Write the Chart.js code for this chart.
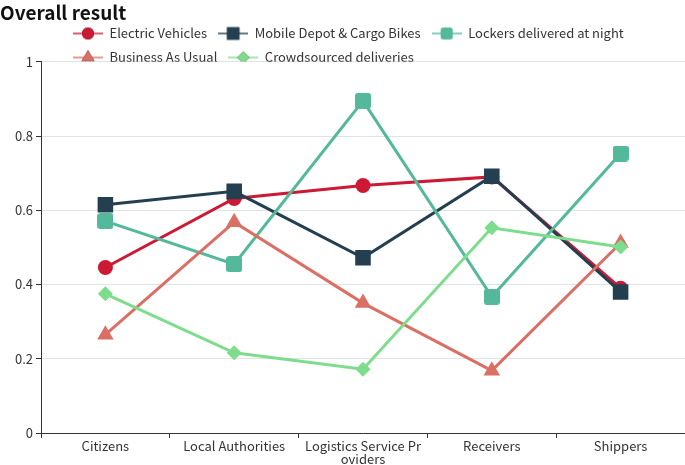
<!DOCTYPE html>
<html>
<head>
<meta charset="utf-8">
<script src="https://cdn.jsdelivr.net/npm/chart.js@4.4.1/dist/chart.umd.min.js"></script>
<style>
  body { margin: 0; background: #fff; }
  canvas { display: block; }
</style>
</head>
<body>
<canvas id="chart" width="685" height="465"></canvas>
<script>
// values
const categories = ['Citizens', 'Local Authorities', ['Logistics Service Pr', 'oviders'], 'Receivers', 'Shippers'];
const electricVehicles = [0.446, 0.632, 0.667, 0.690, 0.390];
const mobileDepot = [0.615, 0.651, 0.472, 0.692, 0.380];
const lockersNight = [0.571, 0.455, 0.895, 0.367, 0.753];
const businessAsUsual = [0.265, 0.568, 0.350, 0.168, 0.512];
const crowdsourced = [0.375, 0.216, 0.172, 0.553, 0.501];
const yTicks = [0, 0.2, 0.4, 0.6, 0.8, 1];

const FONT = "'Noto Sans CJK SC', 'Noto Sans', sans-serif";

// rounded square marker for the lockers series
function roundSquare(color, side, r) {
    const c = document.createElement('canvas');
    c.width = side;
    c.height = side;
    const g = c.getContext('2d');
    g.fillStyle = color;
    g.beginPath();
    g.roundRect(0, 0, side, side, r);
    g.fill();
    return c;
}

const series = [
    { label: 'Electric Vehicles', data: electricVehicles, color: '#cc1a35', style: 'circle', radius: 7.5 },
    { label: 'Mobile Depot & Cargo Bikes', data: mobileDepot, color: '#243f50', style: 'rect', radius: 11 },
    { label: 'Lockers delivered at night', data: lockersNight, color: '#54b89b', style: 'rounded', radius: 8 },
    { label: 'Business As Usual', data: businessAsUsual, color: '#dc6f63', style: 'triangle', radius: 9.5 },
    { label: 'Crowdsourced deliveries', data: crowdsourced, color: '#7ddd8c', style: 'rectRot', radius: 7.5 }
];

function markerStyle(s, scale) {
    if (s.style === 'rounded') {
        const side = Math.round(16 * scale);
        return roundSquare(s.color, side, 3 * scale);
    }
    return s.style;
}

// little line + marker icon for the legend
function legendIcon(s) {
    const c = document.createElement('canvas');
    c.width = 30;
    c.height = 16;
    const g = c.getContext('2d');
    g.strokeStyle = s.color;
    g.globalAlpha = 0.7;
    g.lineWidth = 2;
    g.beginPath();
    g.moveTo(0, 8);
    g.lineTo(30, 8);
    g.stroke();
    g.globalAlpha = 1;
    if (s.style === 'rounded') {
        g.drawImage(roundSquare(s.color, 12, 2.5), 9, 2);
        return c;
    }
    Chart.helpers.drawPoint(g, {
        pointStyle: s.style,
        radius: s.radius * 0.8,
        rotation: 0,
        borderWidth: 0
    }, 15, 8);
    g.fillStyle = s.color;
    g.fill();
    return c;
}

const legendTweak = {
    id: 'legendTweak',
    afterInit(chart) {
        const lg = chart.legend;
        const fit = lg.fit;
        lg.fit = function () {
            fit.call(this);
            this.height = 38;
        };
    },
    afterLayout(chart) {
        // legend rows start under the plot's left part, like the original
        chart.legend.left = 62;
        chart.legend.right = 685;
        chart.legend.top = 16;
    }
};

new Chart(document.getElementById('chart'), {
    type: 'line',
    data: {
        labels: categories,
        datasets: series.map((s, i) => ({
            label: s.label,
            data: s.data,
            borderColor: s.color,
            backgroundColor: s.color,
            borderWidth: 3,
            pointStyle: markerStyle(s, 1),
            pointRadius: s.radius,
            pointHoverRadius: s.radius,
            pointBorderWidth: 0,
            tension: 0,
            order: series.length - i
        }))
    },
    options: {
        responsive: false,
        animation: false,
        devicePixelRatio: 1,
        layout: { autoPadding: false, padding: 0 },
        plugins: {
            title: {
                display: true,
                text: 'Overall result',
                align: 'start',
                color: '#111',
                font: { family: FONT, size: 19, weight: 'bold', lineHeight: 1.15 },
                padding: { top: 2, bottom: 0 }
            },
            legend: {
                position: 'top',
                align: 'start',
                labels: {
                    usePointStyle: true,
                    pointStyleWidth: 30,
                    padding: 11,
                    color: '#333',
                    font: { family: FONT, size: 13 },
                    generateLabels(chart) {
                        return series.map((s, i) => ({
                            text: s.label,
                            pointStyle: legendIcon(s),
                            fillStyle: s.color,
                            strokeStyle: s.color,
                            lineWidth: 0,
                            datasetIndex: i,
                            fontColor: '#333'
                        }));
                    }
                }
            },
            tooltip: { enabled: false }
        },
        scales: {
            x: {
                offset: true,
                afterFit(axis) { axis.height = 32; },
                grid: {
                    offset: true,
                    drawOnChartArea: false,
                    drawTicks: true,
                    tickLength: 5,
                    tickColor: '#333'
                },
                border: { color: '#333', width: 1 },
                ticks: {
                    color: '#333',
                    padding: 2,
                    autoSkip: false,
                    maxRotation: 0,
                    font: { family: FONT, size: 13, lineHeight: 1.0 }
                }
            },
            y: {
                min: 0,
                max: 1,
                afterFit(axis) { axis.width = 41; },
                afterBuildTicks(axis) {
                    axis.ticks = yTicks.map(v => ({ value: v }));
                },
                grid: {
                    color: '#dde4e2',
                    lineWidth: 1,
                    tickLength: 5,
                    tickColor: '#333'
                },
                border: { color: '#333', width: 1 },
                ticks: {
                    color: '#333',
                    padding: 3,
                    font: { family: FONT, size: 13 },
                    callback: v => String(Math.round(v * 10) / 10)
                }
            }
        }
    },
    plugins: [legendTweak]
});
</script>
</body>
</html>
